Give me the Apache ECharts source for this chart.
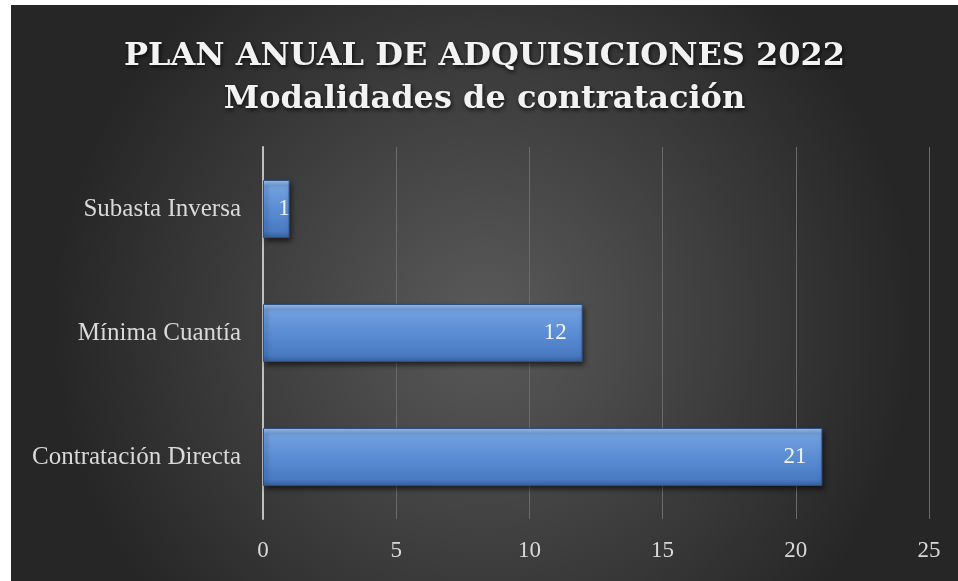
<!DOCTYPE html>
<html>
<head>
<meta charset="utf-8">
<script src="https://cdn.jsdelivr.net/npm/echarts@6/dist/echarts.min.js"></script>
<style>
  html, body { margin: 0; padding: 0; background: #ffffff; }
  #chart { position: absolute; left: 11px; top: 5px; width: 947px; height: 576px; }
</style>
</head>
<body>
<div id="chart"></div>
<script>
// datos del grafico
const categorias = ['Contratación Directa', 'Mínima Cuantía', 'Subasta Inversa'];
const valores = [21, 12, 1];
const ticksX = [0, 5, 10, 15, 20, 25];

const serif = '"Liberation Serif", "DejaVu Serif", serif';
const serifTitulo = '"DejaVu Serif", "Liberation Serif", serif';

const chartDom = document.getElementById('chart');
const myChart = echarts.init(chartDom);

// barras muy cortas: la etiqueta va pegada al final
const datosBarras = valores.map(v => v < 2 ? {value: v, label: {distance: 0}} : v);

const option = {
    backgroundColor: {
        type: 'radial', x: 0.5, y: 0.55, r: 0.75,
        colorStops: [
            {offset: 0, color: '#5a5a5a'},
            {offset: 1, color: '#262626'}
        ]
    },
    title: {
        text: 'PLAN ANUAL DE ADQUISICIONES 2022\nModalidades de contratación',
        left: 'center',
        top: 25,
        textStyle: {
            fontFamily: serifTitulo,
            fontWeight: 'bold',
            fontSize: 32,
            lineHeight: 43,
            color: '#f2f2f2',
            textShadowColor: 'rgba(0,0,0,0.8)',
            textShadowBlur: 4,
            textShadowOffsetX: 1,
            textShadowOffsetY: 2
        }
    },
    grid: {
        left: 252,
        right: 29,
        top: 142,
        bottom: 62
    },
    xAxis: {
        type: 'value',
        min: ticksX[0],
        max: ticksX[ticksX.length - 1],
        interval: 5,
        axisLine: {show: false},
        axisTick: {show: false},
        splitLine: {lineStyle: {color: '#6b6b6b', width: 1}},
        axisLabel: {
            margin: 20,
            color: '#d9d9d9',
            fontFamily: serif,
            fontSize: 23
        }
    },
    yAxis: {
        type: 'category',
        data: categorias,
        axisLine: {show: true, lineStyle: {color: '#bfbfbf', width: 2}},
        axisTick: {show: false},
        axisLabel: {
            margin: 22,
            color: '#d9d9d9',
            fontFamily: serif,
            fontSize: 25
        }
    },
    series: [{
        type: 'bar',
        data: datosBarras,
        barWidth: 58,
        itemStyle: {
            color: {
                type: 'linear', x: 0, y: 0, x2: 0, y2: 1,
                colorStops: [
                    {offset: 0, color: '#a8c9f2'},
                    {offset: 0.1, color: '#73a1e0'},
                    {offset: 0.5, color: '#5b8dd4'},
                    {offset: 0.88, color: '#4a7bc2'},
                    {offset: 1, color: '#36619f'}
                ]
            },
            borderColor: '#2c4f82',
            borderWidth: 1,
            shadowColor: 'rgba(0,0,0,0.6)',
            shadowBlur: 5,
            shadowOffsetX: 2,
            shadowOffsetY: 3
        },
        label: {
            show: true,
            position: 'insideRight',
            distance: 16,
            color: '#f2f2f2',
            fontFamily: serif,
            fontSize: 23
        }
    }]
};

if (myChart) {
    myChart.clear();
}
myChart.setOption(option);
</script>
</body>
</html>
